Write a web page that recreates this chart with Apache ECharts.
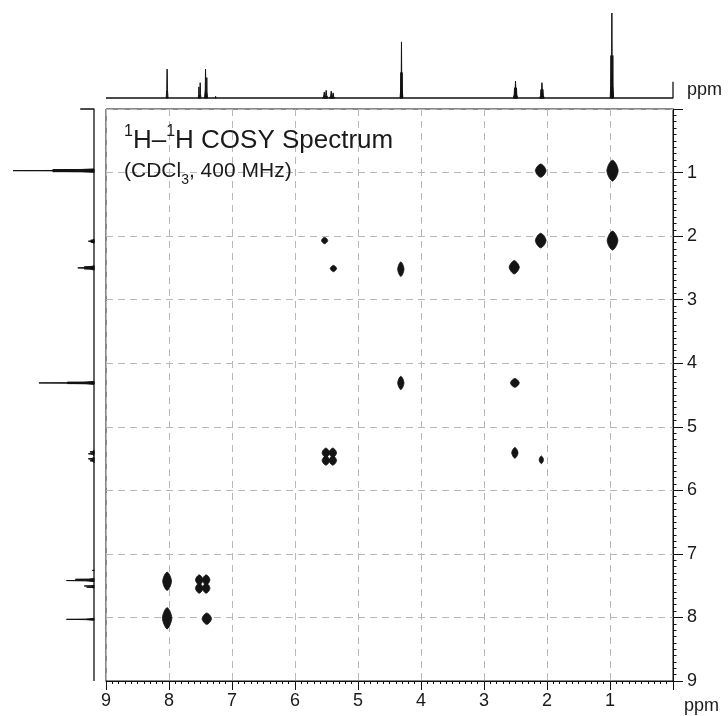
<!DOCTYPE html>
<html><head><meta charset="utf-8">
<script src="https://cdn.jsdelivr.net/npm/echarts@6/dist/echarts.min.js"></script>
<style>html,body{margin:0;padding:0;background:#fff}#c{width:728px;height:716px}</style>
</head><body><div id="c"></div>
<script>
// ---- data (ppm) ----
const axisMin = 0, axisMax = 9;
// 1D proton lines: chemical shift (ppm), half linewidth (ppm)
const lineShifts = [8.03, 7.525, 7.505, 7.42, 7.40, 7.26, 5.535, 5.505, 5.425, 5.395, 4.32, 4.31, 4.30, 2.515, 2.50, 2.485, 2.095, 2.08, 2.065, 0.985, 0.97, 0.955];
const lineHalfWidth = [0.015, 0.012, 0.012, 0.015, 0.012, 0.01, 0.03, 0.03, 0.03, 0.03, 0.012, 0.014, 0.012, 0.02, 0.025, 0.02, 0.02, 0.025, 0.02, 0.012, 0.014, 0.012];
// relative intensities in the top (F2) projection
const topHeights = [0.34, 0.13, 0.18, 0.34, 0.24, 0.02, 0.07, 0.09, 0.08, 0.06, 0.30, 0.66, 0.30, 0.12, 0.20, 0.12, 0.10, 0.18, 0.10, 0.50, 1.0, 0.50];
// relative intensities in the left (F1) projection
const leftHeights = [0.34, 0.09, 0.12, 0.34, 0.23, 0.02, 0.05, 0.07, 0.07, 0.05, 0.33, 0.68, 0.33, 0.12, 0.20, 0.12, 0.04, 0.07, 0.04, 0.51, 1.0, 0.51];
const topEndMark = 0.19;
const leftEndMark = 0.17;
// 2D cross peaks: F2 (ppm), F1 (ppm), F2 linewidth (ppm), F1 linewidth (ppm)
const peakF2 = [0.96, 2.10, 2.10, 0.96, 2.52, 5.53, 5.39, 4.32, 4.32, 2.51, 2.51, 2.09, 5.51, 5.40, 5.51, 5.40, 8.03, 7.52, 7.41, 7.52, 7.41, 8.03, 7.40, 8.03];
const peakF1 = [0.97, 0.97, 2.07, 2.07, 2.49, 2.07, 2.51, 2.52, 4.31, 4.31, 5.41, 5.52, 5.41, 5.41, 5.53, 5.53, 7.43, 7.41, 7.41, 7.54, 7.54, 8.01, 8.02, 8.16];
const peakWidthF2 = [0.18, 0.17, 0.17, 0.17, 0.16, 0.10, 0.10, 0.10, 0.10, 0.14, 0.10, 0.07, 0.12, 0.12, 0.12, 0.12, 0.14, 0.12, 0.12, 0.12, 0.12, 0.15, 0.15, 0.04];
const peakWidthF1 = [0.33, 0.21, 0.23, 0.30, 0.21, 0.10, 0.10, 0.23, 0.21, 0.14, 0.17, 0.12, 0.15, 0.15, 0.15, 0.15, 0.29, 0.16, 0.16, 0.16, 0.16, 0.33, 0.18, 0.04];

// ---- build series data from the arrays ----
const topLines = lineShifts.map((s, i) => [s, topHeights[i], lineHalfWidth[i]]);
const leftLines = lineShifts.map((s, i) => [leftHeights[i], s, lineHalfWidth[i]]);
const topBase = [[axisMax, 0], [axisMin, 0], [axisMin, topEndMark]];
const leftBase = [[0, axisMax], [0, axisMin], [leftEndMark, axisMin]];
const crossData = peakF2.map((x, i) => [x, peakF1[i], peakWidthF2[i], peakWidthF1[i]]);

const FONT = '"Liberation Sans", Arial, Helvetica, sans-serif';
const TXT = '#1a1a1a';
const INK = '#111';
const hideZero = v => (v === 0 ? '' : String(v));

function spike(api, horizontal) {
  let pts;
  if (!horizontal) {
    const s = api.value(0), h = api.value(1), w = api.value(2);
    pts = [[s + w, 0], [s + w * 0.3, h * 0.3], [s, h], [s - w * 0.3, h * 0.3], [s - w, 0]];
  } else {
    const h = api.value(0), s = api.value(1), w = api.value(2);
    pts = [[0, s + w], [h * 0.3, s + w * 0.3], [h, s], [h * 0.3, s - w * 0.3], [0, s - w]];
  }
  return {type: 'polygon', shape: {points: pts.map(p => api.coord(p))},
          style: {fill: INK, stroke: INK, lineWidth: 1}};
}

const chart = echarts.init(document.getElementById('c'), null, {renderer: 'canvas'});
chart.setOption({
  animation: false,
  backgroundColor: '#fff',
  title: [{
    left: 119, top: 119,
    text: '{sup|1}{m|H–}{sup|1}{m|H COSY Spectrum}',
    textStyle: {
      fontWeight: 'normal',
      rich: {
        m: {fontSize: 26, fontFamily: FONT, fontWeight: 'normal', color: TXT, lineHeight: 30, verticalAlign: 'bottom'},
        sup: {fontSize: 16, fontFamily: FONT, fontWeight: 'normal', color: TXT, lineHeight: 16, verticalAlign: 'top'}
      }
    }
  }, {
    left: 119, top: 156,
    text: '{m|(CDCl}{sub|3}{m|, 400 MHz)}',
    textStyle: {
      fontWeight: 'normal',
      rich: {
        m: {fontSize: 21, fontFamily: FONT, fontWeight: 'normal', color: TXT, lineHeight: 26, verticalAlign: 'top'},
        sub: {fontSize: 14, fontFamily: FONT, fontWeight: 'normal', color: TXT, lineHeight: 14, verticalAlign: 'bottom'}
      }
    }
  }],
  grid: [
    {left: 106, top: 109, width: 567, height: 572, show: true, borderColor: INK, borderWidth: 1, backgroundColor: 'transparent'},
    {left: 106, top: 13, width: 567, height: 85},
    {left: 13, top: 109, width: 81, height: 572}
  ],
  xAxis: [{
    gridIndex: 0, type: 'value', min: axisMin, max: axisMax, interval: 1, inverse: true, position: 'bottom',
    axisLine: {show: true, onZero: false, lineStyle: {color: INK, width: 1}},
    axisTick: {show: true, length: 9, lineStyle: {color: INK, width: 1}},
    minorTick: {show: true, splitNumber: 10, length: 3, lineStyle: {color: INK, width: 1}},
    axisLabel: {fontSize: 18, fontFamily: FONT, color: TXT, margin: 11, formatter: hideZero},
    splitLine: {show: true, lineStyle: {color: '#b8b8b8', width: 1, type: [7, 5]}}
  }, {
    gridIndex: 1, type: 'value', min: axisMin, max: axisMax, inverse: true, show: false
  }, {
    gridIndex: 2, type: 'value', min: 0, max: 1, inverse: true, show: false
  }],
  yAxis: [{
    gridIndex: 0, type: 'value', min: axisMin, max: axisMax, interval: 1, inverse: true, position: 'right',
    axisLine: {show: true, onZero: false, lineStyle: {color: INK, width: 1}},
    axisTick: {show: true, length: 10, lineStyle: {color: INK, width: 1}},
    minorTick: {show: true, splitNumber: 10, length: 3.5, lineStyle: {color: INK, width: 1}},
    axisLabel: {fontSize: 18, fontFamily: FONT, color: TXT, margin: 14, formatter: hideZero},
    splitLine: {show: true, lineStyle: {color: '#b8b8b8', width: 1, type: [7, 5]}}
  }, {
    gridIndex: 1, type: 'value', min: 0, max: 1, show: false
  }, {
    gridIndex: 2, type: 'value', min: axisMin, max: axisMax, inverse: true, show: false
  }],
  graphic: [
    {type: 'text', left: 684, top: 697, style: {text: 'ppm', font: '18px ' + FONT, fill: TXT}},
    {type: 'text', left: 687, top: 81, style: {text: 'ppm', font: '18px ' + FONT, fill: TXT}}
  ],
  series: [{
    type: 'line', xAxisIndex: 1, yAxisIndex: 1, data: topBase, symbol: 'none', clip: false,
    lineStyle: {color: INK, width: 1.3}, silent: true
  }, {
    type: 'line', xAxisIndex: 2, yAxisIndex: 2, data: leftBase, symbol: 'none', clip: false,
    lineStyle: {color: INK, width: 1.3}, silent: true
  }, {
    type: 'custom', xAxisIndex: 1, yAxisIndex: 1, data: topLines, silent: true, clip: false,
    renderItem: (params, api) => spike(api, false)
  }, {
    type: 'custom', xAxisIndex: 2, yAxisIndex: 2, data: leftLines, silent: true, clip: false,
    renderItem: (params, api) => spike(api, true)
  }, {
    type: 'custom', xAxisIndex: 0, yAxisIndex: 0, data: crossData, silent: true,
    renderItem: function (params, api) {
      const c = api.coord([api.value(0), api.value(1)]);
      const s = api.size([api.value(2), api.value(3)]);
      const rx = Math.abs(s[0]) / 2, ry = Math.abs(s[1]) / 2;
      const pts = [];
      const n = 28, e = 2 / 1.5;
      for (let k = 0; k < n; k++) {
        const t = 2 * Math.PI * k / n;
        const co = Math.cos(t), si = Math.sin(t);
        pts.push([c[0] + rx * Math.sign(co) * Math.pow(Math.abs(co), e),
                  c[1] + ry * Math.sign(si) * Math.pow(Math.abs(si), e)]);
      }
      return {type: 'polygon', shape: {points: pts}, style: {fill: '#141414', stroke: '#141414', lineWidth: 0.8}};
    }
  }]
});
</script></body></html>
